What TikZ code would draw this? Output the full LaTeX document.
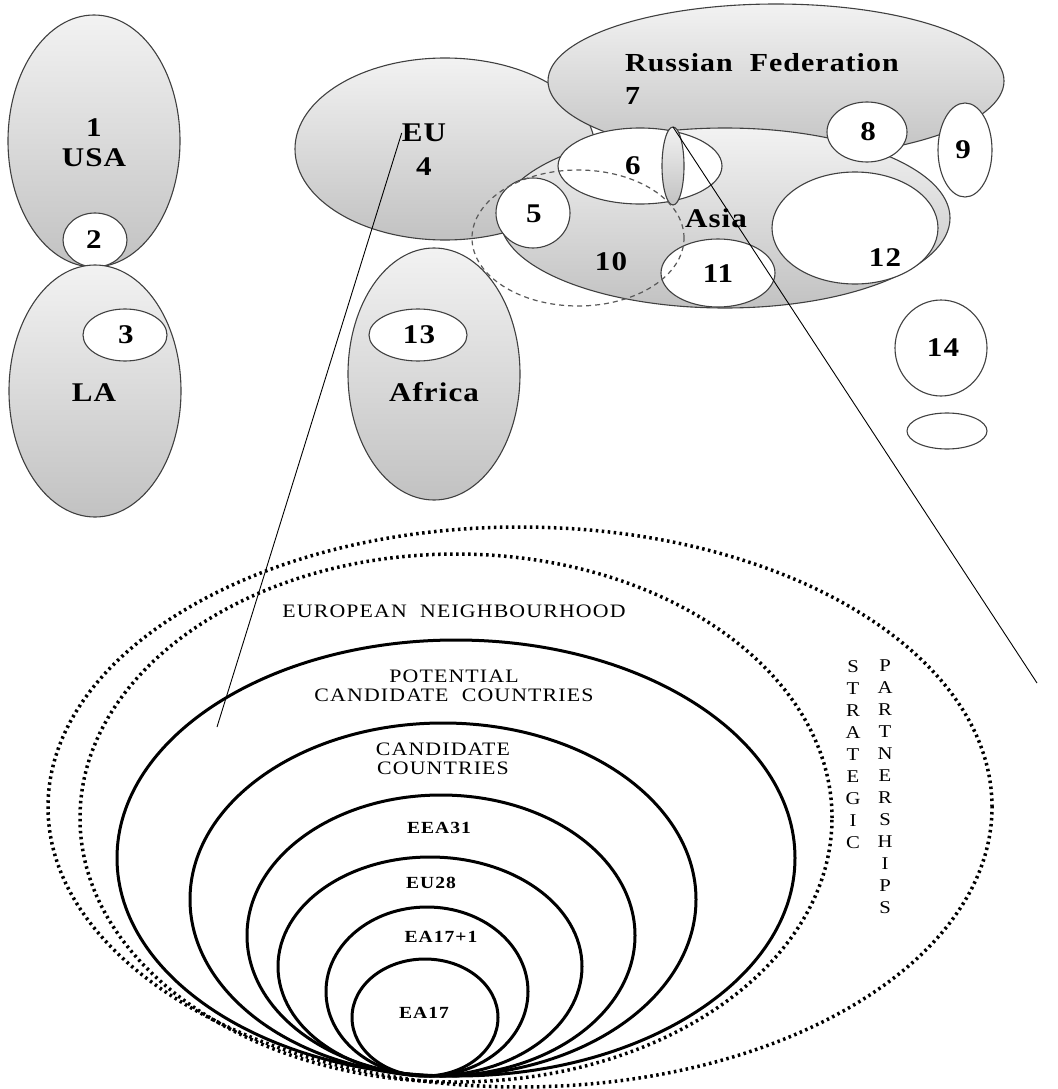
\documentclass[tikz,border=0pt]{standalone}
\usepackage{fontspec}
\setmainfont{Liberation Serif}
\newfontfamily\topfont[FakeStretch=1.15,LetterSpace=4]{Liberation Serif}
\newfontfamily\botfont[FakeStretch=1.15,LetterSpace=6]{Liberation Serif}
\usetikzlibrary{shapes.geometric}
\begin{document}
\begin{tikzpicture}[x=1pt,y=-1pt,
  reg/.style={ellipse, draw=black!75, line width=1.1pt, inner sep=0pt, outer sep=0pt, top color=gray!10, bottom color=gray!48},
  sub/.style={ellipse, draw=black!75, line width=1.1pt, inner sep=0pt, outer sep=0pt, fill=white},
  lbl/.style={font=\topfont\bfseries\fontsize{27}{30}\selectfont, align=center, inner sep=0pt},
  ring/.style={ellipse, draw=black, line width=3pt, inner sep=0pt, outer sep=0pt},
  dotring/.style={ellipse, draw=black, line width=3.5pt, dash pattern=on 2.5pt off 3.5pt, inner sep=0pt, outer sep=0pt},
  btxt/.style={font=\botfont\fontsize{19}{19}\selectfont, align=center, inner sep=0pt},
  bbtxt/.style={font=\botfont\bfseries\fontsize{17}{19}\selectfont, align=center, inner sep=0pt},
  vtxt/.style={font=\botfont\fontsize{18}{22}\selectfont, align=center, inner sep=0pt},
  link/.style={draw=black, line width=0.9pt}
]
\useasboundingbox (0,0) rectangle (1057,1089);

% Americas
\node[reg, minimum width=172, minimum height=252] (usa) at (94,141) {};
\node[sub, minimum width=64, minimum height=54] (e2) at (95,240) {};
\node[reg, minimum width=172, minimum height=252] (la) at (95,391) {};
\node[sub, minimum width=84, minimum height=52] (e3) at (125,335) {};
\node[lbl] (usatxt) at (94,143) {1\\USA};
\node[lbl] (t2) at (94,240) {2};
\node[lbl] (t3) at (126,335) {3};
\node[lbl] (latxt) at (94,393) {LA};

% EU, Russia, Africa, Asia
\node[reg, minimum width=300, minimum height=182] (eu) at (445,149) {};
\node[reg, minimum width=456, minimum height=154] (ru) at (776,81) {};
\node[reg, minimum width=172, minimum height=252] (af) at (434,374) {};
\node[sub, minimum width=98, minimum height=52] (e13) at (418,335) {};
\node[reg, minimum width=450, minimum height=180] (asia) at (725,218) {};
\node[sub, minimum width=164, minimum height=76] (e6) at (640,166) {};
\node[reg, minimum width=22, minimum height=78] (lens) at (673,166) {};
\node[sub, minimum width=74, minimum height=70] (e5) at (533,213) {};
\node[sub, minimum width=114, minimum height=68] (e11) at (718,273) {};
\node[sub, minimum width=166, minimum height=112] (e12) at (855,228) {};
\node[sub, minimum width=80, minimum height=60] (e8) at (867,132) {};
\node[sub, minimum width=54, minimum height=94] (e9) at (965,150) {};
\node[ellipse, draw=black!65, line width=1.2pt, dash pattern=on 5pt off 4pt, inner sep=0pt, minimum width=212, minimum height=136] (e10) at (578,238) {};
\node[sub, minimum width=92, minimum height=96] (e14) at (941,348) {};
\node[sub, minimum width=80, minimum height=36] (e15) at (947,431) {};

\node[lbl] (eutxt) at (424,133) {EU};
\node[lbl] (t4) at (424,167) {4};
\node[lbl, font=\topfont\bfseries\fontsize{26}{33}\selectfont, align=left, anchor=west] (rutxt) at (625,79) {Russian\ \ Federation\\7};
\node[lbl] (t13) at (419,335) {13};
\node[lbl] (aftxt) at (434,392) {Africa};
\node[lbl] (asiatxt) at (716,218) {Asia};
\node[lbl] (t5) at (534,214) {5};
\node[lbl] (t6) at (633,166) {6};
\node[lbl] (t10) at (611,262) {10};
\node[lbl] (t11) at (718,274) {11};
\node[lbl] (t12) at (885,258) {12};
\node[lbl] (t8) at (868,132) {8};
\node[lbl] (t9) at (963,150) {9};
\node[lbl] (t14) at (943,348) {14};

% Nested rings
\node[dotring, minimum width=944, minimum height=560] (sp) at (520,807) {};
\node[dotring, minimum width=752, minimum height=528] (en) at (456,818) {};
\node[ring, minimum width=678, minimum height=436] (pc) at (456,858) {};
\node[ring, minimum width=506, minimum height=353] (cc) at (443,899.5) {};
\node[ring, minimum width=388, minimum height=281] (eea) at (441,935.5) {};
\node[ring, minimum width=304, minimum height=219] (eu28) at (430,966.5) {};
\node[ring, minimum width=202, minimum height=169] (ea18) at (427,991.5) {};
\node[ring, minimum width=146, minimum height=117] (ea17) at (425,1017.5) {};

\node[btxt] (entxt) at (454,611) {EUROPEAN\ \ NEIGHBOURHOOD};
\node[btxt] (pctxt) at (454,686) {POTENTIAL\\CANDIDATE\ \ COUNTRIES};
\node[btxt] (cctxt) at (443,759) {CANDIDATE\\COUNTRIES};
\node[bbtxt] (eeatxt) at (439,828) {EEA31};
\node[bbtxt] (eu28txt) at (431,883) {EU28};
\node[bbtxt] (ea18txt) at (441,937) {EA17+1};
\node[bbtxt] (ea17txt) at (424,1013) {EA17};
\node[vtxt] (strat) at (853,755) {S\\T\\R\\A\\T\\E\\G\\I\\C};
\node[vtxt] (partn) at (885,787) {P\\A\\R\\T\\N\\E\\R\\S\\H\\I\\P\\S};

% Links
\coordinate (c1) at (217,727);
\coordinate (c2) at (1037,683);
\draw[link] (eutxt.west) -- (c1);
\draw[link] (lens.north) -- (c2);
\end{tikzpicture}
\end{document}
